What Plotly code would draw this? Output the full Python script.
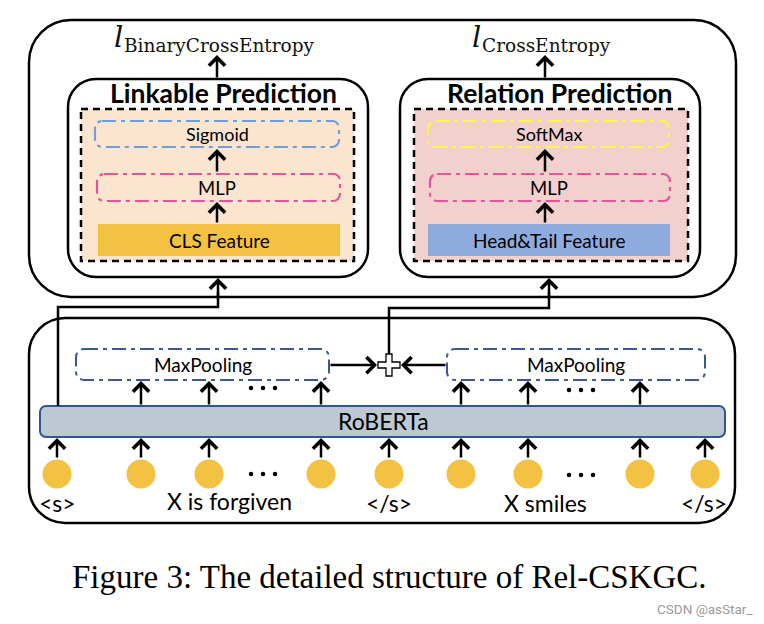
import plotly.graph_objects as go

# ---------------- data (labels) ----------------
loss_labels = ["BinaryCrossEntropy", "CrossEntropy"]
head_titles = ["Linkable Prediction", "Relation Prediction"]
head_top_layers = ["Sigmoid", "SoftMax"]
head_mid_layers = ["MLP", "MLP"]
head_features = ["CLS Feature", "Head&amp;Tail Feature"]
encoder_label = "RoBERTa"
pool_label = "MaxPooling"
token_texts = ["&lt;s&gt;", "X is forgiven", "&lt;/s&gt;", "X smiles", "&lt;/s&gt;"]
caption = "Figure 3: The detailed structure of Rel-CSKGC."
watermark = "CSDN @asStar_"

# ---------------- layout geometry (pixels) ----------------
W, H = 764, 624
SANS = "Lato"
K = 0.5523


def rrect(x0, y0, x1, y1, r):
    k = r * (1 - K)
    return (f"M{x0+r},{y0} L{x1-r},{y0} C{x1-k},{y0} {x1},{y0+k} {x1},{y0+r} "
            f"L{x1},{y1-r} C{x1},{y1-k} {x1-k},{y1} {x1-r},{y1} "
            f"L{x0+r},{y1} C{x0+k},{y1} {x0},{y1-k} {x0},{y1-r} "
            f"L{x0},{y0+r} C{x0},{y0+k} {x0+k},{y0} {x0+r},{y0} Z")


shapes = []
annotations = []


def add_rrect(x0, y0, x1, y1, r, color="black", width=2.5, dash="solid", fill=None, layer="below"):
    shapes.append(dict(type="path", path=rrect(x0, y0, x1, y1, r), xref="x", yref="y",
                       line=dict(color=color, width=width, dash=dash),
                       fillcolor=fill if fill else "rgba(0,0,0,0)", layer=layer))


def add_rect(x0, y0, x1, y1, color="black", width=2.5, dash="solid", fill=None, layer="below"):
    shapes.append(dict(type="rect", x0=x0, y0=y0, x1=x1, y1=y1, xref="x", yref="y",
                       line=dict(color=color, width=width, dash=dash),
                       fillcolor=fill if fill else "rgba(0,0,0,0)", layer=layer))


def add_line(pts, width=2.5):
    path = "M" + " L".join(f"{x},{y}" for x, y in pts)
    shapes.append(dict(type="path", path=path, xref="x", yref="y",
                       line=dict(color="black", width=width), layer="above"))


def add_arrow(x0, y0, x1, y1):
    annotations.append(dict(x=x1, y=y1, ax=x0, ay=y0, xref="x", yref="y", axref="x", ayref="y",
                            showarrow=True, arrowhead=4, arrowsize=1.25, arrowwidth=2.5,
                            arrowcolor="black", text=""))


def add_text(x, y, text, size, family=SANS, color="black", bold=False, xanchor="center"):
    if bold:
        text = f"<b>{text}</b>"
    annotations.append(dict(x=x, y=y, xref="x", yref="y", text=text, showarrow=False,
                            font=dict(family=family, size=size, color=color),
                            xanchor=xanchor, yanchor="middle"))


DASHDOT = "14px,5px,4px,5px"

# outer boxes
add_rrect(29, 20, 736, 297, 42)
add_rrect(29, 318, 735, 523, 36)

# prediction heads
heads = [
    dict(box=(68, 79, 368), inner=(81, 354), fill="#FBE5CF", ax=217, title_x=223,
         top_color="#6E9FDA", feat_fill="#F4C242", feat=(98, 340), layer=(95, 339), loss_x=118),
    dict(box=(400, 79, 700), inner=(414, 688), fill="#F2D0CD", ax=545, title_x=559,
         top_color="#FFF34F", feat_fill="#8FAADC", feat=(428, 670), layer=(428, 669), loss_x=476),
]
for i, h in enumerate(heads):
    bx0, by0, bx1 = h["box"]
    add_rrect(bx0, by0, bx1, 277, 28)
    add_rect(h["inner"][0], 109, h["inner"][1], 261, width=2.5, dash="7px,5px", fill=h["fill"])
    lx0, lx1 = h["layer"]
    add_rrect(lx0, 121, lx1, 147, 7, color=h["top_color"], width=2.2, dash=DASHDOT)
    add_rrect(lx0 + 2, 174, lx1 + 1, 201, 7, color="#E0559B", width=2.2, dash=DASHDOT)
    add_rect(h["feat"][0], 224, h["feat"][1], 256, width=0, fill=h["feat_fill"])
    add_text(h["title_x"], 93, head_titles[i], 26.5, bold=True)
    add_text((lx0 + lx1) / 2, 134, head_top_layers[i], 18)
    add_text((lx0 + lx1) / 2, 188, head_mid_layers[i], 18.5)
    add_text((h["feat"][0] + h["feat"][1]) / 2, 240, head_features[i], 19)
    ax = h["ax"]
    add_arrow(ax, 79, ax, 55)
    add_arrow(ax, 173, ax, 149)
    add_arrow(ax, 224, ax, 202)
    # loss label
    add_text(h["loss_x"], 37, "<i>l</i>", 29, family="DejaVu Serif", color="#111", xanchor="center")
    add_text(h["loss_x"] + 4, 45, loss_labels[i], 18.5, family="DejaVu Serif", color="#111", xanchor="left")

# encoder bar
add_rrect(40, 406, 725, 437, 6, color="#2F5597", width=2, fill="#BDC8D3")
add_text(383, 421, encoder_label, 23)

# max pooling boxes
pools = [(76, 329), (447, 705)]
for px0, px1 in pools:
    add_rrect(px0, 349, px1, 380, 8, color="#3A5894", width=2, dash=DASHDOT, layer="above")
    add_text((px0 + px1) / 2, 364, pool_label, 19)

# plus combiner
cx, cy, a, t = 389, 365, 11, 3
plus = (f"M{cx-t},{cy-a} L{cx+t},{cy-a} L{cx+t},{cy-t} L{cx+a},{cy-t} L{cx+a},{cy+t} "
        f"L{cx+t},{cy+t} L{cx+t},{cy+a} L{cx-t},{cy+a} L{cx-t},{cy+t} L{cx-a},{cy+t} "
        f"L{cx-a},{cy-t} L{cx-t},{cy-t} Z")

add_arrow(329, 365, cx - a - 1, 365)
add_arrow(447, 365, cx + a + 1, 365)

# connections to heads
add_line([(58, 406), (58, 307), (218, 307), (218, 292)])
add_arrow(218, 300, 218, 278)
add_line([(cx, cy - a), (cx, 308), (549, 308), (549, 292)])
add_arrow(549, 300, 549, 278)
shapes.append(dict(type="path", path=plus, xref="x", yref="y",
                   line=dict(color="black", width=1.3), fillcolor="white", layer="above"))

# tokens
token_x = [57, 141, 209, 321, 389, 461, 528, 640, 705]
for x in token_x:
    add_arrow(x, 459, x, 438)
for x in [141, 209, 321, 461, 528, 640]:
    add_arrow(x, 406, x, 381)

label_pos = [(57, 503), (229, 501), (389, 503), (545, 503), (704, 503)]
for (x, y), txt in zip(label_pos, token_texts):
    add_text(x, y, txt, 23)

fig = go.Figure()
fig.add_trace(go.Scatter(x=token_x, y=[474] * len(token_x), mode="markers",
                         marker=dict(size=29, color="#F4C242", line=dict(width=0)),
                         hoverinfo="skip", showlegend=False))
# ellipsis dots
dots_x, dots_y = [], []
for (dx, dy) in [(263, 474), (263, 388), (581, 475), (581, 390)]:
    for o in (-12, 0, 12):
        dots_x.append(dx + o)
        dots_y.append(dy)
fig.add_trace(go.Scatter(x=dots_x, y=dots_y, mode="markers",
                         marker=dict(size=4.5, color="black"), hoverinfo="skip", showlegend=False))

add_text(389, 577, caption, 33, family="Liberation Serif")
add_text(755, 609, watermark, 13.5, family="Roboto", color="#9A9A9A", xanchor="right")

fig.update_layout(
    width=W, height=H, margin=dict(l=0, r=0, t=0, b=0),
    paper_bgcolor="white", plot_bgcolor="white",
    xaxis=dict(range=[0, W], visible=False, fixedrange=True),
    yaxis=dict(range=[H, 0], visible=False, fixedrange=True),
    shapes=shapes, annotations=annotations, showlegend=False,
)
fig.write_html("out.html", config={"displayModeBar": False},
               post_script="document.body.style.margin='0';document.body.style.overflow='hidden';")
